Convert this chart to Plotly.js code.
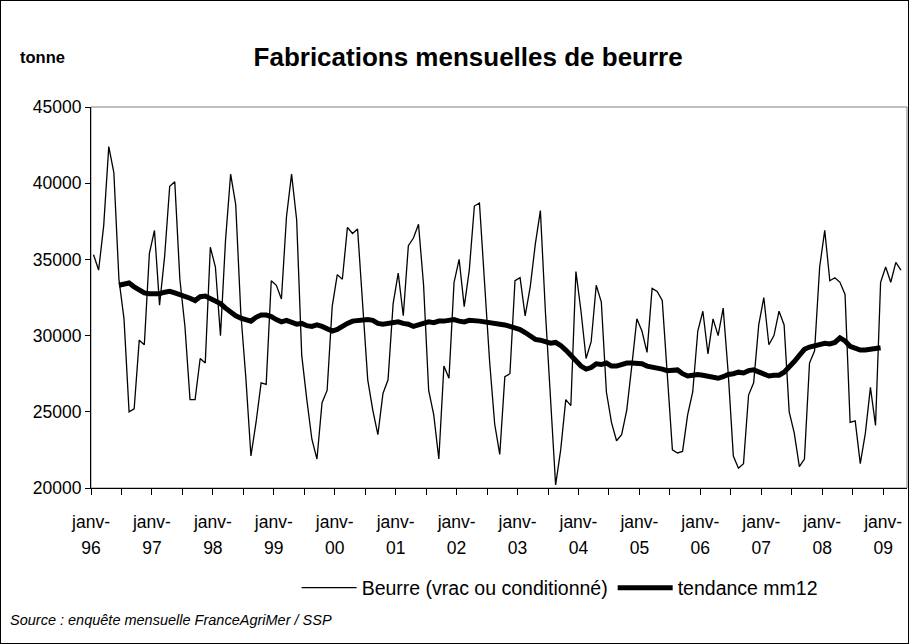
<!DOCTYPE html>
<html>
<head>
<meta charset="utf-8">
<script src="https://cdn.plot.ly/plotly-3.0.1.min.js"></script>
<style>
html,body{margin:0;padding:0;background:#fff;}
#wrap{position:relative;width:909px;height:644px;}
#chart{width:909px;height:644px;}
#frame{position:absolute;left:0;top:0;width:907px;height:642px;border:1px solid #000;pointer-events:none;}
</style>
</head>
<body>
<div id="wrap"><div id="chart"></div><div id="frame"></div></div>
<script>
// Monthly butter production (tonnes), janv-96 .. avr-09
const beurre = [
  35300, 34300, 37200, 42400, 40700, 33700, 31100, 25000, 25200, 29700, 29400, 35400, // 1996
  36900, 32000, 35200, 39800, 40100, 33700, 30600, 25800, 25800, 28500, 28200, 35800, // 1997
  34500, 30000, 36300, 40600, 38600, 31500, 27200, 22100, 24300, 26900, 26800, 33600, // 1998
  33300, 32400, 37800, 40600, 37600, 28700, 25800, 23200, 21900, 25600, 26400, 31900, // 1999
  34000, 33700, 37100, 36700, 37000, 32300, 27100, 25100, 23500, 26200, 27100, 32100, // 2000
  34100, 31300, 35900, 36400, 37300, 33300, 26400, 24800, 21900, 28000, 27200, 33500, // 2001
  35000, 31900, 34300, 38500, 38700, 33500, 28300, 24200, 22200, 27300, 27500, 33600, // 2002
  33800, 31300, 33200, 36000, 38200, 31500, 26000, 20200, 22500, 25800, 25400, 34200, // 2003
  31600, 28500, 29600, 33300, 32200, 26300, 24300, 23100, 23500, 25100, 28000, 31100, // 2004
  30300, 28900, 33100, 32900, 32300, 27300, 22500, 22300, 22400, 24800, 26300, 30300, // 2005
  31600, 28800, 31100, 30000, 31800, 27500, 22100, 21300, 21600, 26100, 26900, 30700, // 2006
  32500, 29400, 30000, 31600, 30700, 25000, 23600, 21400, 21900, 28200, 29000, 34500, // 2007
  36900, 33600, 33800, 33500, 32700, 24300, 24400, 21600, 23600, 26600, 24100, 33500, // 2008
  34500, 33500, 34800, 34300                                                          // 2009
];
// 12-month moving average trend, from juin-96 (index 5) to déc-08 (index 155)
const tendanceStart = 5;
const tendance = [
  33300, 33400, 33450, 33200, 33000, 32800, 32750,
  32750, 32750, 32850, 32900, 32800, 32700, 32600, 32450, 32300, 32550, 32600, 32450,
  32300, 32100, 31800, 31500, 31300, 31150, 31050, 30950, 31200, 31350, 31350, 31250,
  31050, 30900, 31000, 30850, 30750, 30800, 30650, 30600, 30700, 30600, 30450, 30300,
  30400, 30650, 30800, 30950, 31000, 31050, 31050, 31000, 30800, 30750, 30800, 30850,
  30900, 30800, 30750, 30600, 30700, 30850, 30900, 30850, 30950, 30950, 31000, 31050,
  30950, 30900, 31000, 31000, 30950, 30900, 30850, 30850, 30800, 30700, 30600, 30500,
  30400, 30200, 29950, 29750, 29700, 29600, 29500, 29550, 29350, 29050, 28700, 28300,
  28000, 27800, 27900, 28150, 28100, 28200, 28000, 28000, 28100, 28200, 28200, 28200,
  28150, 28000, 27950, 27900, 27800, 27700, 27750, 27750, 27500, 27350, 27400, 27450,
  27400, 27350, 27250, 27200, 27300, 27450, 27500, 27600, 27550, 27700, 27750, 27600,
  27450, 27350, 27400, 27400, 27600, 27900, 28300, 28700, 29100, 29250, 29350, 29400,
  29500, 29450, 29550, 29850, 29650, 29300, 29150, 29050, 29050, 29100, 29200, 29200
];
const years = ['96','97','98','99','00','01','02','03','04','05','06','07','08','09'];
const monthLabel = 'janv-';
const yTicks = [20000, 25000, 30000, 35000, 40000, 45000];

const xB = beurre.map((v, i) => i);
const xT = tendance.map((v, i) => i + tendanceStart);
const labelVals = years.map((y, k) => 12 * k - 0.5);
const halfVals = years.map((y, k) => 12 * k + 5.5);

const FONT = 'Liberation Sans, Arial, sans-serif';
const XRANGE = [-0.5, 160.2];

const data = [
  {x: xB, y: beurre, type: 'scatter', mode: 'lines', name: 'Beurre (vrac ou conditionné)',
   line: {color: '#000', width: 1.3}, hoverinfo: 'skip'},
  {x: xT, y: tendance, type: 'scatter', mode: 'lines', name: 'tendance mm12',
   line: {color: '#000', width: 5}, hoverinfo: 'skip'},
  // carrier for the second row of x labels (years); invisible
  {x: xB, y: beurre, xaxis: 'x2', type: 'scatter', mode: 'lines', showlegend: false,
   line: {color: 'rgba(0,0,0,0)', width: 0}, hoverinfo: 'skip'}
];

const layout = {
  width: 909, height: 644,
  margin: {l: 91, r: 2, t: 107, b: 156},
  paper_bgcolor: '#fff', plot_bgcolor: '#fff',
  font: {family: FONT, color: '#000', size: 17.5},
  hovermode: false,
  title: {text: '<b>Fabrications mensuelles de beurre</b>', x: 0.515, xanchor: 'center',
          y: 0.911, yanchor: 'middle', font: {family: FONT, size: 26, color: '#000'}},
  showlegend: true,
  legend: {orientation: 'h', x: 0.252, xanchor: 'left', y: -0.2625, yanchor: 'middle',
           font: {family: FONT, size: 19.5, color: '#000'}, itemwidth: 55, traceorder: 'normal'},
  xaxis: {range: XRANGE, tickmode: 'array', tickvals: labelVals,
          ticktext: labelVals.map(() => monthLabel),
          ticks: 'outside', ticklen: 6, tickcolor: '#000', showline: true, linecolor: '#000',
          linewidth: 1, showgrid: false, zeroline: false, tickangle: 0, ticklabelstandoff: 12,
          minor: {tickmode: 'array', tickvals: halfVals, ticks: 'outside', ticklen: 6, tickcolor: '#000'},
          tickfont: {family: FONT, size: 17.5, color: '#000'}, fixedrange: true},
  xaxis2: {range: XRANGE, overlaying: 'x', anchor: 'y', side: 'bottom', tickmode: 'array',
           tickvals: labelVals, ticktext: years, ticks: '', showline: false, showgrid: false,
           zeroline: false, tickangle: 0, ticklabelstandoff: 47,
           tickfont: {family: FONT, size: 17.5, color: '#000'}, fixedrange: true},
  yaxis: {range: [20000, 45000], tickmode: 'array', tickvals: yTicks, ticks: 'outside',
          ticklen: 5, tickcolor: '#000', showline: true, linecolor: '#000', linewidth: 1,
          showgrid: false, zeroline: false, tickfont: {family: FONT, size: 17.5, color: '#000'},
          tickformat: 'd', fixedrange: true},
  shapes: [
    {type: 'rect', xref: 'paper', yref: 'paper', x0: 0, x1: 1, y0: 0, y1: 1,
     line: {color: '#808080', width: 1}, fillcolor: 'rgba(0,0,0,0)', layer: 'below'}
  ],
  annotations: [
    {text: '<b>tonne</b>', xref: 'paper', yref: 'paper', x: -0.0895, y: 1.131,
     xanchor: 'left', yanchor: 'middle', showarrow: false, font: {family: FONT, size: 16.5, color: '#000'}},
    {text: '<i>Source : enquête mensuelle FranceAgriMer / SSP</i>', xref: 'paper', yref: 'paper',
     x: -0.1017, y: -0.3465, xanchor: 'left', yanchor: 'middle', showarrow: false,
     font: {family: FONT, size: 14.5, color: '#000'}}
  ]
};

Plotly.newPlot('chart', data, layout, {displayModeBar: false, staticPlot: true});
</script>
</body>
</html>
